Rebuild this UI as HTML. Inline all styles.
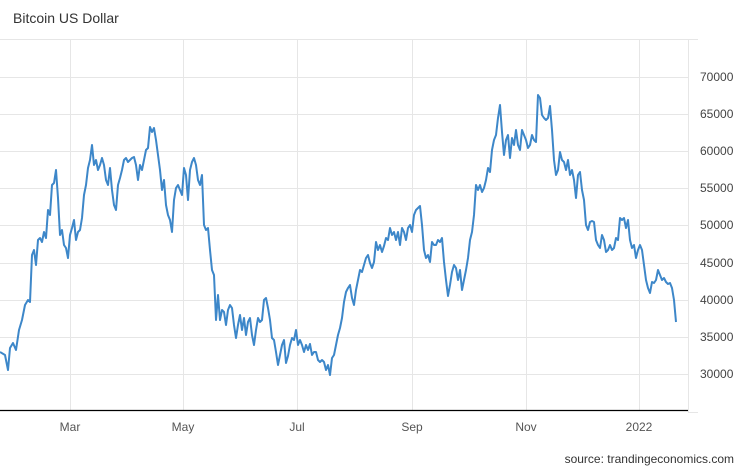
<!DOCTYPE html>
<html><head><meta charset="utf-8"><style>
html,body{margin:0;padding:0;background:#fff;width:746px;height:468px;overflow:hidden}
svg{display:block;font-family:"Liberation Sans",sans-serif}
</style></head><body>
<svg width="746" height="468" viewBox="0 0 746 468">
<text x="13" y="23" font-size="14" fill="#333">Bitcoin US Dollar</text>
<g stroke="#e6e6e6" stroke-width="1">
<line x1="0" y1="39.5" x2="698" y2="39.5"/>
<line x1="0" y1="77.5" x2="688" y2="77.5"/>
<line x1="0" y1="114.5" x2="688" y2="114.5"/>
<line x1="0" y1="151.5" x2="688" y2="151.5"/>
<line x1="0" y1="188.5" x2="688" y2="188.5"/>
<line x1="0" y1="225.5" x2="688" y2="225.5"/>
<line x1="0" y1="263.5" x2="688" y2="263.5"/>
<line x1="0" y1="300.5" x2="688" y2="300.5"/>
<line x1="0" y1="337.5" x2="688" y2="337.5"/>
<line x1="0" y1="374.5" x2="688" y2="374.5"/>
<line x1="70.5" y1="39" x2="70.5" y2="410"/>
<line x1="183.5" y1="39" x2="183.5" y2="410"/>
<line x1="297.5" y1="39" x2="297.5" y2="410"/>
<line x1="412.5" y1="39" x2="412.5" y2="410"/>
<line x1="526.5" y1="39" x2="526.5" y2="410"/>
<line x1="639.5" y1="39" x2="639.5" y2="410"/>
<line x1="688.5" y1="39" x2="688.5" y2="412"/>
<line x1="688" y1="412.5" x2="698" y2="412.5"/>
</g>
<line x1="0" y1="410.5" x2="688" y2="410.5" stroke="#000" stroke-width="1.2"/>
<g font-size="12" fill="#444">
<text x="700" y="81">70000</text><text x="700" y="118">65000</text><text x="700" y="155">60000</text>
<text x="700" y="192">55000</text><text x="700" y="229">50000</text><text x="700" y="267">45000</text>
<text x="700" y="304">40000</text><text x="700" y="341">35000</text><text x="700" y="378">30000</text>
</g>
<g font-size="12" fill="#555" text-anchor="middle">
<text x="70" y="431">Mar</text><text x="183" y="431">May</text><text x="297" y="431">Jul</text>
<text x="412" y="431">Sep</text><text x="526" y="431">Nov</text><text x="639" y="431">2022</text>
</g>
<text x="734" y="463" font-size="12" fill="#333" text-anchor="end">source: trandingeconomics.com</text>
<polyline fill="none" stroke="#3d87c9" stroke-width="2" stroke-linejoin="round" points="0,352 5,355 8,370 10,348 13,343 16,350 19,330 22,320 25,305 28,300 30,302 32,255 34,250 36,265 38,240 40,238 42,242 44,232 46,238 48,210 50,215 52,185 54,183 56,170 58,198 60,235 62,230 64,245 66,248 68,258 70,235 72,228 74,220 76,240 78,232 80,230 82,218 84,195 86,185 88,168 90,160 92,145 94,165 96,160 98,170 100,165 102,158 104,165 106,180 108,185 110,168 112,190 114,205 116,210 118,185 120,178 122,170 124,160 126,158 128,162 130,160 132,158 134,157 136,165 138,180 140,165 142,170 144,160 146,150 148,148 150,127 152,132 154,128 156,140 158,155 160,170 162,190 164,180 166,205 168,215 170,220 172,232 174,200 176,188 178,185 180,190 182,195 184,168 186,175 188,200 190,170 192,162 194,158 196,165 198,180 200,185 202,175 204,225 206,230 208,228 210,250 212,270 214,275 216,320 218,295 220,320 222,310 224,312 226,325 228,310 230,305 232,308 234,325 236,338 238,325 240,315 242,330 244,318 246,335 248,322 250,318 252,335 254,345 256,330 258,318 260,322 262,320 264,300 266,298 268,308 270,320 272,338 274,340 276,352 278,365 280,355 282,345 284,340 286,363 288,356 290,345 292,338 294,340 296,330 298,345 300,340 302,345 304,352 306,345 308,350 310,344 312,355 314,352 316,352 318,360 320,362 322,360 324,362 326,370 328,365 330,375 332,358 334,355 336,345 338,335 340,328 342,318 344,302 346,292 348,288 350,285 352,298 354,305 356,290 358,280 360,270 362,272 364,265 366,258 368,255 370,263 372,268 374,262 376,242 378,250 380,245 382,252 384,246 386,238 388,240 390,228 392,235 394,232 396,240 398,232 400,245 402,228 404,232 406,240 408,228 410,225 412,232 414,215 416,210 418,208 420,206 422,225 424,250 426,258 428,255 430,262 432,242 434,245 436,245 438,240 440,242 442,238 444,262 446,280 448,296 450,285 452,272 454,265 456,268 458,280 460,270 462,290 464,280 466,270 468,258 470,240 472,232 474,215 476,185 478,190 480,185 482,192 484,188 486,180 488,168 490,172 492,150 494,140 496,135 498,118 500,105 502,132 504,155 506,140 508,135 510,158 512,138 514,145 516,130 518,145 520,150 522,130 524,135 526,140 528,148 530,145 532,135 534,140 536,142 538,95 540,98 542,115 544,118 546,120 548,118 550,106 552,130 554,160 556,175 558,170 560,152 562,160 564,162 566,170 568,160 570,175 572,170 574,180 576,198 578,175 580,172 582,190 584,200 586,225 588,230 590,222 592,221 594,222 596,240 598,245 600,248 602,235 604,240 606,252 608,250 610,245 612,250 614,248 616,238 618,240 620,218 622,220 624,218 626,228 628,220 630,240 632,248 634,245 636,258 638,250 640,245 642,250 644,265 646,280 648,288 650,293 652,282 654,283 656,280 658,270 660,275 662,280 664,278 666,282 668,284 670,283 672,288 674,300 676,322"/>
</svg>
</body></html>
